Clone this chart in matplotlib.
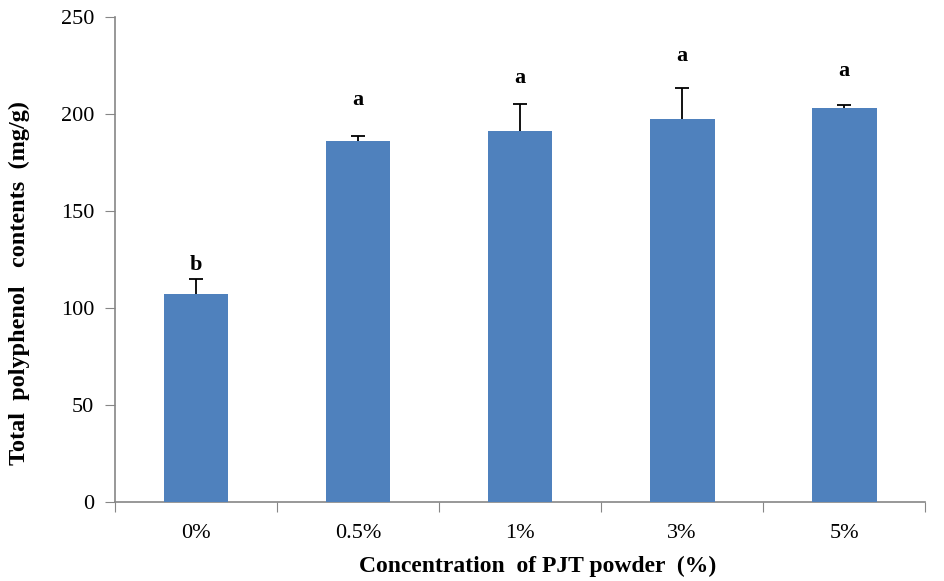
import matplotlib.pyplot as plt
import numpy as np

plt.rcParams['font.family'] = ['Liberation Serif', 'DejaVu Serif']

# data
labels = ['0%', '0.5%', '1%', '3%', '5%']
means = [106.9, 186.1, 191.2, 197.4, 202.8]
errs = [7.7, 2.3, 14.0, 15.7, 1.5]
letters = ['b', 'a', 'a', 'a', 'a']
letter_y = [122, 207, 218.5, 229.5, 222]

x = np.arange(len(labels))

fig = plt.figure(figsize=(9.45, 5.81), dpi=100)
ax = fig.add_axes([0.1217, 0.1365, 0.8573, 0.8348])

# error bars behind the bars so only the upper half shows
ax.errorbar(x, means, yerr=errs, fmt='none',
            ecolor='black', elinewidth=1.3, capsize=5, capthick=1.3, zorder=2)
ax.bar(x, means, width=0.4, color='#4F81BD', zorder=3)

for xi, yi, t in zip(x, letter_y, letters):
    ax.text(xi, yi, t, ha='center', va='center', fontsize=16, fontweight='bold')

ax.set_xlim(-0.5, len(labels) - 0.5)
ax.set_ylim(0, 250)
ax.set_yticks(np.arange(0, 251, 50))

# ticks sit between the categories, labels under the bars
ax.set_xticks(np.arange(-0.5, len(labels), 1.0))
ax.set_xticklabels([])
ax.set_xticks(x, minor=True)
ax.set_xticklabels(labels, minor=True, fontsize=16)
ax.tick_params(axis='x', which='minor', length=0, pad=16)
ax.tick_params(axis='x', which='major', length=7, color='#868686', direction='out')
ax.tick_params(axis='y', length=7, color='#868686', direction='out', labelsize=16, pad=8)

for s in ['top', 'right']:
    ax.spines[s].set_visible(False)
for s in ['left', 'bottom']:
    ax.spines[s].set_color('#868686')
    ax.spines[s].set_linewidth(1.2)

ax.set_xlabel('Concentration  of PJT powder  (%)', fontsize=17, fontweight='bold', labelpad=9)
ax.xaxis.label.set_x(0.522)
ax.set_ylabel('Total  polyphenol   contents  (mg/g)', fontsize=17.5, fontweight='bold', labelpad=22)
ax.yaxis.label.set_y(0.451)

fig.savefig('out.png', dpi=100)
